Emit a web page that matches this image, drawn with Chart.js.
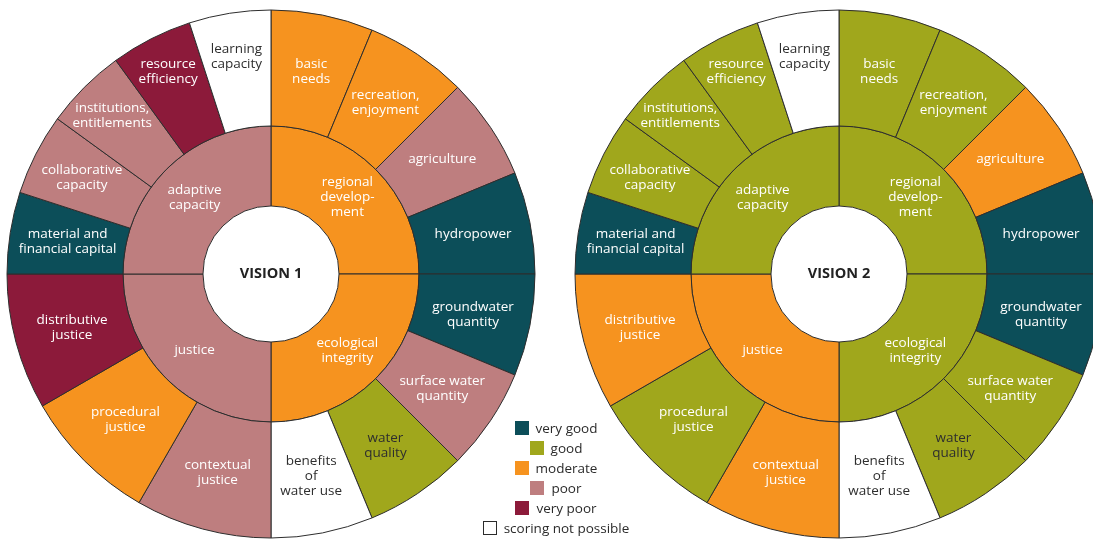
<!DOCTYPE html>
<html>
<head>
<meta charset="utf-8">
<script src="https://cdn.jsdelivr.net/npm/chart.js@4/dist/chart.umd.min.js"></script>
<style>
html,body{margin:0;padding:0;width:1093px;height:540px;overflow:hidden;background:#fff;}
.wrap{position:absolute;width:548px;height:548px;top:0;}
#legend{position:absolute;left:456px;top:418px;width:200px;font-family:'Open Sans',sans-serif;font-size:13.5px;color:#2b2b2b;}
.row{display:flex;justify-content:center;align-items:center;height:20px;white-space:nowrap;}
.sw{width:14px;height:14px;margin-right:7px;box-sizing:border-box;flex:none;}
</style>
</head>
<body>
<div class="wrap" style="left:-3px"><canvas id="c1" width="548" height="548"></canvas></div>
<div class="wrap" style="left:565px"><canvas id="c2" width="548" height="548"></canvas></div>
<div id="legend"></div>
<script>
// ---- data ----
const dimensions = ['regional development', 'ecological integrity', 'justice', 'adaptive capacity'];
const dimensionLabels = [['regional', 'develop-', 'ment'], ['ecological', 'integrity'], ['justice'], ['adaptive', 'capacity']];
const criteria = ['basic needs', 'recreation, enjoyment', 'agriculture', 'hydropower',
  'groundwater quantity', 'surface water quantity', 'water quality', 'benefits of water use',
  'contextual justice', 'procedural justice', 'distributive justice',
  'material and financial capital', 'collaborative capacity', 'institutions, entitlements', 'resource efficiency', 'learning capacity'];
const criteriaLabels = [['basic', 'needs'], ['recreation,', 'enjoyment'], ['agriculture'], ['hydropower'],
  ['groundwater', 'quantity'], ['surface water', 'quantity'], ['water', 'quality'], ['benefits', 'of', 'water use'],
  ['contextual', 'justice'], ['procedural', 'justice'], ['distributive', 'justice'],
  ['material and', 'financial capital'], ['collaborative', 'capacity'], ['institutions,', 'entitlements'], ['resource', 'efficiency'], ['learning', 'capacity']];
const criteriaDimension = [0, 0, 0, 0, 1, 1, 1, 1, 2, 2, 2, 3, 3, 3, 3, 3];
const scoreLevels = ['very good', 'good', 'moderate', 'poor', 'very poor', 'scoring not possible'];
const visionTitles = ['VISION 1', 'VISION 2'];
const vision1Dimension = ['moderate', 'moderate', 'poor', 'poor'];
const vision1Criteria = ['moderate', 'moderate', 'poor', 'very good',
  'very good', 'poor', 'good', 'scoring not possible',
  'poor', 'moderate', 'very poor',
  'very good', 'poor', 'poor', 'very poor', 'scoring not possible'];
const vision2Dimension = ['good', 'good', 'moderate', 'good'];
const vision2Criteria = ['good', 'good', 'moderate', 'very good',
  'very good', 'good', 'good', 'scoring not possible',
  'moderate', 'good', 'moderate',
  'very good', 'good', 'good', 'good', 'scoring not possible'];

// ---- styles ----
const levelColors = {'very good': '#0c4e59', 'good': '#a0a71c', 'moderate': '#f6931f', 'poor': '#be7e7f', 'very poor': '#8c1a3a', 'scoring not possible': '#ffffff'};
const darkText = '#2e2e2e';
const darkLabelCriteria = ['water quality'];
const labelRadiusFactor = {'learning capacity': 1.07, 'resource efficiency': 1.1, 'institutions, entitlements': 1.09, 'collaborative capacity': 1.03};
const FONT = "'Open Sans', sans-serif";

// segment spans: each dimension is a quarter, split evenly among its criteria
const dimCounts = dimensions.map((d, k) => criteriaDimension.filter(x => x === k).length);
const criteriaSpan = criteriaDimension.map(k => 1 / dimCounts[k]);
const dimensionSpan = dimensions.map(() => 1);

const labelPlugin = {
  id: 'segLabels',
  afterDatasetsDraw(chart) {
    const ctx = chart.ctx;
    ctx.save();
    ctx.textAlign = 'center';
    ctx.textBaseline = 'middle';
    ctx.font = '13.5px ' + FONT;
    chart.data.datasets.forEach((ds, di) => {
      const meta = chart.getDatasetMeta(di);
      meta.data.forEach((arc, i) => {
        const p = arc.getProps(['x', 'y', 'startAngle', 'endAngle', 'innerRadius', 'outerRadius'], true);
        const a = (p.startAngle + p.endAngle) / 2;
        const name = ds.names[i];
        const f = labelRadiusFactor[name] || 1;
        const r = (p.innerRadius + p.outerRadius) / 2 * f;
        const cx = p.x + Math.cos(a) * r;
        const cy = p.y + Math.sin(a) * r;
        const lines = ds.lines[i];
        const lh = 15;
        const white = ds.levels[i] === 'scoring not possible' || darkLabelCriteria.includes(name);
        ctx.fillStyle = white ? darkText : '#ffffff';
        lines.forEach((t, j) => {
          ctx.fillText(t, cx, cy + (j - (lines.length - 1) / 2) * lh);
        });
      });
    });
    const m = chart.getDatasetMeta(0).data[0];
    ctx.fillStyle = '#222';
    ctx.font = 'bold 14.5px ' + FONT;
    ctx.fillText(chart.options.plugins.centerTitle, m.x, m.y);
    ctx.restore();
  }
};

function makeChart(id, title, dimScores, critScores) {
  return new Chart(document.getElementById(id), {
    type: 'doughnut',
    data: {
      labels: criteria,
      datasets: [
        {
          data: criteriaSpan,
          names: criteria,
          lines: criteriaLabels,
          levels: critScores,
          backgroundColor: critScores.map(s => levelColors[s]),
          borderColor: '#2d2d2d',
          borderWidth: 1,
          weight: 116
        },
        {
          data: dimensionSpan,
          names: dimensions,
          lines: dimensionLabels,
          levels: dimScores,
          backgroundColor: dimScores.map(s => levelColors[s]),
          borderColor: '#2d2d2d',
          borderWidth: 1,
          weight: 80
        }
      ]
    },
    options: {
      responsive: false,
      animation: false,
      events: [],
      radius: 264,
      cutout: '25.76%',
      layout: {padding: 0},
      plugins: {legend: {display: false}, tooltip: {enabled: false}, centerTitle: title}
    },
    plugins: [labelPlugin]
  });
}

makeChart('c1', visionTitles[0], vision1Dimension, vision1Criteria);
makeChart('c2', visionTitles[1], vision2Dimension, vision2Criteria);

// legend
const lg = document.getElementById('legend');
scoreLevels.forEach(lv => {
  const row = document.createElement('div');
  row.className = 'row';
  const sw = document.createElement('span');
  sw.className = 'sw';
  sw.style.background = levelColors[lv];
  if (lv === 'scoring not possible') sw.style.border = '1px solid #2b2b2b';
  const tx = document.createElement('span');
  tx.textContent = lv;
  row.appendChild(sw);
  row.appendChild(tx);
  lg.appendChild(row);
});
</script>
</body>
</html>
